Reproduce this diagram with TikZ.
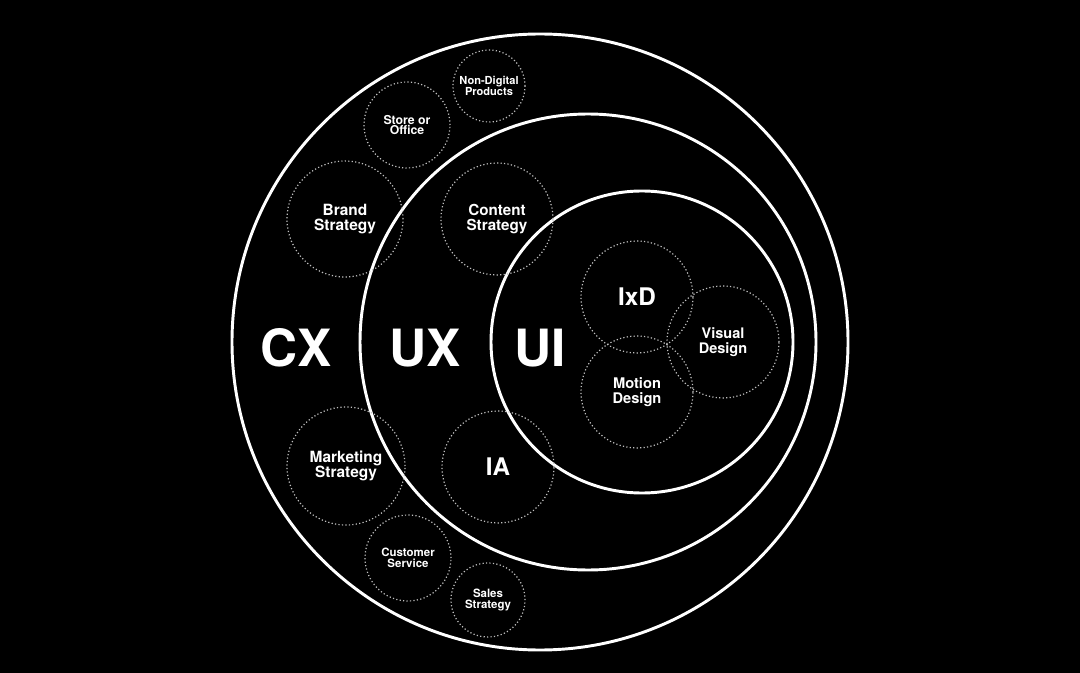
\documentclass[tikz,border=0pt]{standalone}
\usepackage{fontspec}
\setmainfont{TeX Gyre Heros}

\begin{document}
\begin{tikzpicture}[x=0.75pt,y=-0.75pt,font=\bfseries,text=white]
    \tikzstyle{ring}=[circle,draw=white,line width=2.2pt,inner sep=0pt]
    \tikzstyle{bubble}=[circle,draw=white!75!black,line width=0.9pt,dash pattern=on 0.9pt off 1.7pt,inner sep=0pt,align=center]
    \tikzstyle{tag}=[inner sep=0pt,font=\fontsize{38.5}{40}\selectfont\bfseries]
    \fill[black] (0,0) rectangle (1080,673);
    \useasboundingbox (0,0) rectangle (1080,673);

    % the three rings
    \foreach \name/\x/\r in {cx/540/308, ux/588/228, ui/642/151}
        \node[ring,minimum size=\r*1.5pt] (ring-\name) at (\x,342) {};

    % big labels
    \foreach \name/\x in {CX/296, UX/425, UI/540}
        \node[tag] (tag-\name) at (\x,348) {\name};

    % dotted bubbles: name/x/y/radius/font size/leading/text
    \foreach \name/\x/\y/\r/\size/\lead/\txt in {
            nondigital/489/86/36/8.3/7.5/{Non-Digital\\Products},
            store/407/125/43/9.2/8/{Store or\\Office},
            brand/345/219/58/11.6/11.25/{Brand\\Strategy},
            content/497/219/56/11.4/11.25/{Content\\Strategy},
            ixd/637/297/56/18.2/20/{IxD},
            visual/723/342/56/10.9/11.25/{Visual\\Design},
            motion/637/392/56/11/11.25/{Motion\\Design},
            marketing/346/466/59/11.6/11.25/{Marketing\\Strategy},
            ia/498/467/56/18.2/20/{IA},
            customer/408/558/43/8.6/8.25/{Customer\\Service},
            sales/488/600/37/8.6/8.25/{Sales\\Strategy}}
        \node[bubble,minimum size=\r*1.5pt,font=\fontsize{\size}{\lead}\selectfont\bfseries] (B-\name) at (\x,\y) {\txt};
\end{tikzpicture}
\end{document}
